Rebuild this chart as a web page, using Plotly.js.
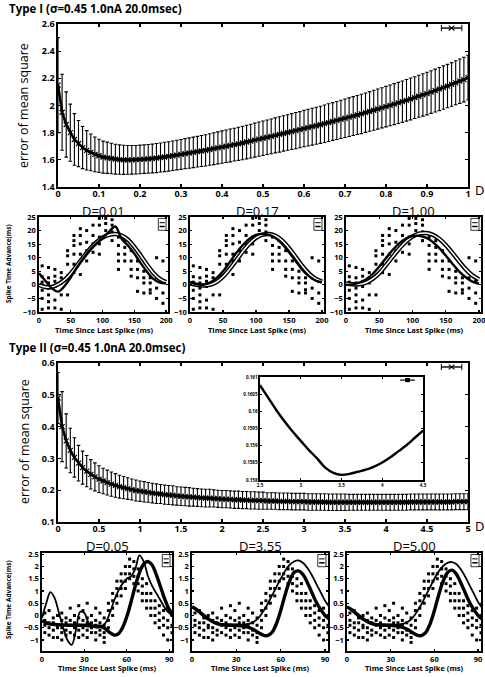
<!DOCTYPE html>
<html><head><meta charset="utf-8">
<script src="https://cdn.plot.ly/plotly-3.0.1.min.js"></script>
<style>html,body{margin:0;padding:0;background:#fff}#c{width:485px;height:677px}</style>
</head><body><div id="c"></div>
<script>
// ---------- Type I main: error of mean square vs D ----------
const typeID = [0,0.01,0.02,0.03,0.04,0.05,0.06,0.07,0.08,0.09,0.1,0.11,0.12,0.13,0.14,0.15,0.16,0.17,0.18,0.19,0.2,
0.21,0.22,0.23,0.24,0.25,0.26,0.27,0.28,0.29,0.3,0.31,0.32,0.33,0.34,0.35,0.36,0.37,0.38,0.39,0.4,
0.41,0.42,0.43,0.44,0.45,0.46,0.47,0.48,0.49,0.5,0.51,0.52,0.53,0.54,0.55,0.56,0.57,0.58,0.59,0.6,
0.61,0.62,0.63,0.64,0.65,0.66,0.67,0.68,0.69,0.7,0.71,0.72,0.73,0.74,0.75,0.76,0.77,0.78,0.79,0.8,
0.81,0.82,0.83,0.84,0.85,0.86,0.87,0.88,0.89,0.9,0.91,0.92,0.93,0.94,0.95,0.96,0.97,0.98,0.99,1.0];
const typeIMean = [2.15,1.95,1.86,1.80,1.75,1.72,1.69,1.67,1.655,1.64,1.63,1.62,1.615,1.61,1.605,1.602,1.60,1.60,1.60,1.601,1.603,
1.605,1.607,1.61,1.613,1.617,1.621,1.625,1.63,1.635,1.64,1.645,1.65,1.655,1.66,1.665,1.67,1.676,1.682,1.688,1.694,
1.70,1.706,1.712,1.718,1.724,1.731,1.738,1.745,1.752,1.759,1.766,1.773,1.78,1.787,1.794,1.801,1.808,1.815,1.822,1.83,
1.837,1.844,1.851,1.858,1.866,1.874,1.882,1.89,1.898,1.906,1.914,1.922,1.93,1.938,1.947,1.956,1.965,1.974,1.983,1.992,
2.001,2.01,2.019,2.028,2.038,2.048,2.058,2.068,2.078,2.088,2.099,2.11,2.121,2.132,2.143,2.155,2.167,2.179,2.191,2.205];
const typeIErr = [0.35,0.28,0.24,0.21,0.19,0.17,0.155,0.145,0.135,0.128,0.122,0.118,0.115,0.112,0.11,0.108,0.107,0.106,0.105,0.105,0.105,
0.105,0.106,0.106,0.107,0.107,0.108,0.108,0.109,0.109,0.11,0.111,0.112,0.112,0.113,0.114,0.115,0.116,0.117,0.118,0.119,
0.12,0.121,0.121,0.122,0.123,0.124,0.124,0.125,0.126,0.127,0.127,0.128,0.129,0.13,0.13,0.131,0.132,0.133,0.133,0.134,
0.135,0.136,0.136,0.137,0.138,0.139,0.139,0.14,0.141,0.142,0.142,0.143,0.144,0.145,0.145,0.146,0.147,0.148,0.148,0.149,
0.15,0.151,0.151,0.152,0.153,0.154,0.154,0.155,0.156,0.157,0.157,0.158,0.159,0.16,0.16,0.161,0.162,0.163,0.164,0.165];

// ---------- Type I PRC panels (time since last spike, ms) ----------
const prcIColX = [5,15,25,35,45,55,65,75,85,95,105,115,125,135,145,155,165,175,185,195];
const prcIColY = [[7,3,1,-2,-5,-9],[6.4,2.6,0.7,-1.2,-3.7,-6.2,-8.5],[5.7,3.2,1.3,-0.6,-5.6,-8.5],[4.5,2.6,0.7,-3.7,-9],
[12.6,10.7,7.6,3.2,-3.7],[18.2,16.3,14.5,11.3,7.6,4.5],[20.7,18.2,15.1,11.3,8.8,3.8],[20,15.7,12.6,8.8],[22,18.2,15.1,12],
[24.5,22,17.6,15.1,11.3],[24.5,22.6,20,18.2],[24,22,19.5,16.3],[17.6,14.5,11.3,8.8,5.7],[16.3,13.8,11.3,8.8],
[12.6,8.8,5.7,3.2],[8.8,5.7,2.6,-2.4],[5,2.6,0.7,-3],[2.6,0.7,-1.8,-3],[10,2.6,-1.2,-5],[8.8,1.3,-3,-6.8]];
const curveIX = [0,10,20,30,40,50,60,70,80,90,100,110,120,130,140,150,160,170,180,190,200];
const fitI_D001 = [4.3,1.5,-1.2,-2.5,-0.5,2.8,6.5,9.8,12.8,15.2,17.2,19.5,21.5,17.0,14.5,11.5,8.0,4.8,2.2,0.8,0.6];
const prcI_D001 = [0,-0.8,-0.8,0.2,1.8,4.2,7.2,10.3,13.2,15.6,17.4,18.4,18.7,18.2,16.6,14.0,10.8,7.4,4.4,2.2,1.0];
const fitI_D017 = [1.0,0.3,0.0,0.8,2.5,5.0,8.3,11.7,14.7,17.0,18.4,18.8,18.4,17.2,15.0,12.0,8.8,5.6,3.2,1.6,1.0];
const prcI_D017 = [0.5,0.0,-0.2,0.0,1.0,3.0,5.8,9.0,12.3,15.2,17.3,18.5,18.7,18.0,16.2,13.5,10.3,7.0,4.2,2.3,1.2];
const fitI_D100 = [0.0,0.2,0.8,2.0,4.0,6.8,9.8,12.8,15.3,17.1,18.0,18.1,17.4,15.9,13.6,10.8,7.8,5.0,2.8,1.2,0.4];
const prcI_D100 = [0.5,0.2,0.2,0.8,2.2,4.3,7.2,10.3,13.3,15.9,17.8,18.9,19.1,18.5,17.0,14.7,11.8,8.7,5.8,3.5,2.0];

// ---------- Type II main ----------
const typeIID = [0,0.05,0.1,0.15,0.2,0.25,0.3,0.35,0.4,0.45,0.5,0.55,0.6,0.65,0.7,0.75,0.8,0.85,0.9,0.95,1.0,
1.05,1.1,1.15,1.2,1.25,1.3,1.35,1.4,1.45,1.5,1.55,1.6,1.65,1.7,1.75,1.8,1.85,1.9,1.95,2.0,
2.05,2.1,2.15,2.2,2.25,2.3,2.35,2.4,2.45,2.5,2.55,2.6,2.65,2.7,2.75,2.8,2.85,2.9,2.95,3.0,
3.05,3.1,3.15,3.2,3.25,3.3,3.35,3.4,3.45,3.5,3.55,3.6,3.65,3.7,3.75,3.8,3.85,3.9,3.95,4.0,
4.05,4.1,4.15,4.2,4.25,4.3,4.35,4.4,4.45,4.5,4.55,4.6,4.65,4.7,4.75,4.8,4.85,4.9,4.95,5.0];
const typeIIMean = [0.49,0.40,0.355,0.325,0.303,0.285,0.271,0.26,0.25,0.242,0.235,0.229,0.224,0.219,0.215,0.211,0.208,0.205,0.202,0.199,0.197,
0.195,0.193,0.191,0.189,0.188,0.186,0.185,0.184,0.182,0.181,0.18,0.179,0.178,0.177,0.176,0.175,0.175,0.174,0.173,0.172,
0.172,0.171,0.17,0.17,0.169,0.169,0.168,0.168,0.167,0.167,0.166,0.166,0.166,0.165,0.165,0.165,0.164,0.164,0.164,0.164,
0.163,0.163,0.163,0.163,0.163,0.162,0.162,0.162,0.162,0.162,0.162,0.162,0.162,0.162,0.162,0.162,0.162,0.162,0.162,0.162,
0.162,0.162,0.162,0.162,0.162,0.163,0.163,0.163,0.163,0.163,0.163,0.163,0.163,0.163,0.163,0.163,0.164,0.164,0.164,0.164];
const typeIIErr = [0.08,0.11,0.085,0.07,0.062,0.056,0.052,0.049,0.046,0.044,0.042,0.04,0.039,0.038,0.037,0.036,0.035,0.034,0.033,0.033,0.032,
0.032,0.031,0.031,0.031,0.03,0.03,0.03,0.03,0.029,0.029,0.029,0.029,0.028,0.028,0.028,0.028,0.028,0.027,0.027,0.027,
0.027,0.027,0.027,0.027,0.027,0.027,0.027,0.027,0.027,0.027,0.026,0.026,0.026,0.026,0.026,0.026,0.026,0.026,0.026,0.026,
0.026,0.026,0.026,0.026,0.026,0.026,0.026,0.026,0.026,0.026,0.025,0.025,0.025,0.025,0.025,0.025,0.025,0.025,0.025,0.025,
0.025,0.025,0.025,0.025,0.025,0.025,0.025,0.025,0.025,0.025,0.025,0.025,0.025,0.025,0.025,0.025,0.025,0.025,0.025,0.025];
// inset (zoom near the minimum)
const insetD = [2.5,2.6,2.7,2.8,2.9,3.0,3.1,3.2,3.3,3.4,3.5,3.6,3.7,3.8,3.9,4.0,4.1,4.2,4.3,4.4,4.5];
const insetVal = [0.16076,0.1604,0.16004,0.15971,0.15941,0.15914,0.15887,0.15863,0.15836,0.15821,0.15815,0.15818,0.15824,0.1583,0.15839,0.15851,0.15866,0.15884,0.15902,0.15923,0.15944];

// ---------- Type II PRC panels ----------
const prcIIColX = [2,5,8,11,14,17,20,23,26,29,32,35,38,41,44,47,50,53,56,59,62,65,68,71,74,77,80,83,86,89,92];
const prcIIColY = [[0.1,-0.2,-0.4,-0.7],[0.2,-0.3,-0.5,-0.8],[-0.1,-0.3,-0.6,-0.9],[0.0,-0.4,-0.5,-0.9],[0.1,-0.2,-0.5,-0.7,-1.0],
[-0.1,-0.3,-0.6,-0.8],[0.3,-0.2,-0.4,-0.7],[0.0,-0.3,-0.5,-0.8],[0.4,-0.1,-0.4,-0.6,-0.9],[0.2,-0.2,-0.5,-0.8],
[0.5,-0.1,-0.3,-0.6,-0.9],[0.0,-0.3,-0.5,-0.7],[0.3,-0.2,-0.4,-0.7,-1.0],[0.1,-0.3,-0.6,-0.8],[-0.1,-0.4,-0.7,-0.9,-1.1],
[0.5,0.2,-0.2,-0.5],[0.9,0.6,0.3,0.0],[1.4,1.1,0.8,0.5],[1.7,1.4,1.1,0.8],[2.0,1.7,1.4,1.1],[2.3,2.0,1.7,1.5],
[2.2,1.9,1.6,1.3],[1.9,1.6,1.3,1.0],[1.5,1.2,0.9,0.6],[1.3,0.9,0.6,0.3],[0.9,0.6,0.3,0.0],[0.6,0.3,0.0,-0.3],
[0.4,0.1,-0.2,-0.5],[0.2,-0.1,-0.4,-0.8],[0.3,-0.2,-0.5,-1.0],[0.0,-0.4,-0.7]];
const curveIIX = [0,3,6,9,12,15,18,21,24,27,30,33,36,39,42,45,48,51,54,57,60,63,66,69,72,75,78,81,84,87,90,93];
const fitII_D005 = [-0.1,0.5,0.95,0.7,0.1,-0.5,-1.0,-1.2,-0.6,0.15,0.1,-0.3,-0.45,-0.5,-0.45,-0.3,0.1,0.6,1.0,1.3,1.5,1.6,1.9,2.45,2.2,1.6,1.2,0.9,0.6,0.3,0.1,0.0];
const prcII_D005 = [-0.2,-0.3,-0.35,-0.37,-0.38,-0.39,-0.4,-0.4,-0.4,-0.4,-0.4,-0.42,-0.43,-0.44,-0.45,-0.55,-0.7,-0.8,-0.75,-0.5,-0.05,0.55,1.2,1.75,2.1,2.2,2.05,1.65,1.15,0.65,0.25,0.0];
const fitII_D355 = [0.35,0.2,0.05,-0.1,-0.2,-0.27,-0.32,-0.35,-0.36,-0.37,-0.37,-0.37,-0.36,-0.33,-0.25,-0.1,0.15,0.45,0.8,1.15,1.5,1.82,2.06,2.2,2.25,2.15,1.95,1.65,1.3,0.95,0.6,0.35];
const prcII_D355 = [0.35,0.25,0.1,-0.05,-0.18,-0.28,-0.35,-0.38,-0.4,-0.4,-0.4,-0.42,-0.45,-0.5,-0.58,-0.7,-0.8,-0.82,-0.7,-0.35,0.2,0.85,1.4,1.75,1.82,1.68,1.35,0.95,0.55,0.25,0.0,-0.15];
const fitII_D500 = [0.35,0.2,0.05,-0.1,-0.2,-0.27,-0.32,-0.35,-0.36,-0.37,-0.37,-0.37,-0.36,-0.33,-0.25,-0.1,0.15,0.45,0.8,1.15,1.5,1.8,2.02,2.15,2.18,2.1,1.9,1.6,1.25,0.9,0.55,0.3];
const prcII_D500 = [0.35,0.25,0.1,-0.05,-0.18,-0.28,-0.35,-0.38,-0.4,-0.4,-0.4,-0.42,-0.45,-0.5,-0.58,-0.7,-0.8,-0.82,-0.7,-0.35,0.2,0.85,1.4,1.75,1.85,1.7,1.35,0.95,0.55,0.25,0.0,-0.15];

// ---------- helpers ----------
const W = 485, H = 677;
const px = x => x / W, py = y => 1 - y / H;
const FONT = "'Open Sans', 'Noto Sans', sans-serif";
function flatten(cx, cy) { const X = [], Y = []; cx.forEach((x, i) => cy[i].forEach(v => { X.push(x); Y.push(v); })); return [X, Y]; }
function axis(x0, x1, range, extra) {
  return Object.assign({domain: [x0, x1], range: range, showline: true, linecolor: 'black', linewidth: 1.6,
    mirror: 'ticks', ticks: 'inside', ticklen: 3, tickwidth: 1.2, tickcolor: 'black', showgrid: false, zeroline: false,
    fixedrange: true, ticklabeloverflow: 'allow', tickfont: {family: FONT, size: 9, weight: 'bold', color: 'black'}}, extra || {});
}
const traces = [];
const layout = {width: W, height: H, margin: {l: 0, r: 0, t: 0, b: 0}, showlegend: false,
  paper_bgcolor: 'white', plot_bgcolor: 'rgba(0,0,0,0)', annotations: [], shapes: [], font: {family: FONT, color: 'black'}};

// main type I
layout.xaxis = axis(px(58), px(468), [0, 1], {anchor: 'y', dtick: 0.1, tick0: 0, ticklabelstandoff: -2});
layout.yaxis = axis(py(187), py(24), [1.4, 2.6], {anchor: 'x', dtick: 0.2, tick0: 1.4});
traces.push({x: typeID, y: typeIMean, xaxis: 'x', yaxis: 'y', type: 'scatter', mode: 'lines+markers',
  line: {color: 'black', width: 2.6}, marker: {symbol: 'x-thin', size: 5, color: 'black', line: {width: 1.2, color: 'black'}},
  error_y: {type: 'data', array: typeIErr, visible: true, color: 'black', thickness: 1.1, width: 1.8}});

// main type II
layout.xaxis5 = axis(px(58), px(468), [0, 5], {anchor: 'y5', dtick: 0.5, tick0: 0, ticklabelstandoff: -2});
layout.yaxis5 = axis(py(522), py(363), [0.1, 0.6], {anchor: 'x5', dtick: 0.1, tick0: 0.1});
traces.push({x: typeIID, y: typeIIMean, xaxis: 'x5', yaxis: 'y5', type: 'scatter', mode: 'lines+markers',
  line: {color: 'black', width: 2.6}, marker: {symbol: 'x-thin', size: 5, color: 'black', line: {width: 1.2, color: 'black'}},
  error_y: {type: 'data', array: typeIIErr, visible: true, color: 'black', thickness: 1.1, width: 1.8}});
// inset
layout.xaxis6 = axis(px(260), px(423), [2.5, 4.5], {anchor: 'y6', dtick: 0.5, tick0: 2.5, ticklen: 2, linewidth: 1.6,
  tickfont: {family: FONT, size: 4.5, weight: 'bold', color: 'black'}});
layout.yaxis6 = axis(py(480), py(377), [0.158, 0.161], {anchor: 'x6', dtick: 0.0005, tick0: 0.158, ticklen: 2, tickformat: '.4~f',
  tickfont: {family: FONT, size: 4.5, weight: 'bold', color: 'black'}});
traces.push({x: insetD, y: insetVal, xaxis: 'x6', yaxis: 'y6', type: 'scatter', mode: 'lines', line: {color: 'black', width: 2.4, shape: 'spline'}});

// PRC panels
const [sIx, sIy] = flatten(prcIColX, prcIColY);
const [sIIx, sIIy] = flatten(prcIIColX, prcIIColY);
const rowI = [{n: 2, x0: 39, x1: 168, fit: fitI_D001, prc: prcI_D001, t: 'D=0.01'},
              {n: 3, x0: 190, x1: 324, fit: fitI_D017, prc: prcI_D017, t: 'D=0.17'},
              {n: 4, x0: 346, x1: 481, fit: fitI_D100, prc: prcI_D100, t: 'D=1.00'}];
const rowII = [{n: 7, x0: 42, x1: 172, fit: fitII_D005, prc: prcII_D005, t: 'D=0.05'},
               {n: 8, x0: 192, x1: 328, fit: fitII_D355, prc: prcII_D355, t: 'D=3.55'},
               {n: 9, x0: 347, x1: 481, fit: fitII_D500, prc: prcII_D500, t: 'D=5.00'}];
const smallFont = {family: FONT, size: 7.5, weight: 'bold', color: 'black'};
rowI.forEach(p => {
  const xa = 'x' + p.n, ya = 'y' + p.n;
  layout['xaxis' + p.n] = axis(px(p.x0), px(p.x1), [0, 203], {anchor: ya, dtick: 50, tick0: 0, tickfont: smallFont, ticklen: 2});
  layout['yaxis' + p.n] = axis(py(312), py(217), [-10, 25], {anchor: xa, dtick: 5, tick0: -10, tickfont: smallFont, ticklen: 2});
  traces.push({x: sIx, y: sIy, xaxis: xa, yaxis: ya, type: 'scatter', mode: 'markers', marker: {symbol: 'square', size: 3, color: 'black'}});
  traces.push({x: curveIX, y: p.prc, xaxis: xa, yaxis: ya, type: 'scatter', mode: 'lines', line: {color: 'black', width: 4.5, shape: 'spline'}});
  traces.push({x: curveIX, y: p.prc, xaxis: xa, yaxis: ya, type: 'scatter', mode: 'lines', line: {color: 'white', width: 1.5, shape: 'spline'}});
  traces.push({x: curveIX, y: p.fit, xaxis: xa, yaxis: ya, type: 'scatter', mode: 'lines', line: {color: 'black', width: 2.4, shape: 'spline'}});
  layout.annotations.push({xref: 'paper', yref: 'paper', x: px((p.x0 + p.x1) / 2), y: py(210.5), text: p.t, showarrow: false,
    font: {family: FONT, size: 13, color: 'black'}, xanchor: 'center', yanchor: 'middle'});
  layout.annotations.push({xref: 'paper', yref: 'paper', x: px((p.x0 + p.x1) / 2), y: py(330), text: 'Time Since Last Spike (ms)', showarrow: false,
    font: {family: FONT, size: 7.5, weight: 'bold', color: 'black'}, xanchor: 'center', yanchor: 'middle'});
});
rowII.forEach(p => {
  const xa = 'x' + p.n, ya = 'y' + p.n;
  layout['xaxis' + p.n] = axis(px(p.x0), px(p.x1), [0, 92], {anchor: ya, dtick: 30, tick0: 0, tickfont: smallFont, ticklen: 2});
  layout['yaxis' + p.n] = axis(py(651), py(553), [-1.45, 2.55], {anchor: xa, dtick: 0.5, tick0: -1, tickfont: smallFont, ticklen: 2,
    tickvals: [-1, -0.5, 0, 0.5, 1, 1.5, 2, 2.5]});
  traces.push({x: sIIx, y: sIIy, xaxis: xa, yaxis: ya, type: 'scatter', mode: 'markers', marker: {symbol: 'square', size: 3, color: 'black'}});
  traces.push({x: curveIIX, y: p.fit, xaxis: xa, yaxis: ya, type: 'scatter', mode: 'lines', line: {color: 'black', width: 1.8, shape: 'spline'}});
  traces.push({x: curveIIX, y: p.prc, xaxis: xa, yaxis: ya, type: 'scatter', mode: 'lines', line: {color: 'black', width: 3.4, shape: 'spline'}});
  layout.annotations.push({xref: 'paper', yref: 'paper', x: px((p.x0 + p.x1) / 2), y: py(546), text: p.t, showarrow: false,
    font: {family: FONT, size: 13, color: 'black'}, xanchor: 'center', yanchor: 'middle'});
  layout.annotations.push({xref: 'paper', yref: 'paper', x: px((p.x0 + p.x1) / 2), y: py(668), text: 'Time Since Last Spike (ms)', showarrow: false,
    font: {family: FONT, size: 7.5, weight: 'bold', color: 'black'}, xanchor: 'center', yanchor: 'middle'});
});
// small legend boxes in PRC panels
[2, 3, 4, 7, 8, 9].forEach(n => {
  const xr = 'x' + n + ' domain', yr = 'y' + n + ' domain';
  layout.shapes.push({type: 'rect', xref: xr, yref: yr, x0: 0.925, x1: 0.985, y0: 0.86, y1: 0.985, line: {color: 'black', width: 0.8}});
  layout.shapes.push({type: 'line', xref: xr, yref: yr, x0: 0.935, x1: 0.975, y0: 0.94, y1: 0.94, line: {color: 'black', width: 1}});
  layout.shapes.push({type: 'line', xref: xr, yref: yr, x0: 0.935, x1: 0.975, y0: 0.9, y1: 0.9, line: {color: 'black', width: 1.5}});
});
// legend markers of main panels
[['x', 'y'], ['x5', 'y5']].forEach(([a, b]) => {
  const xr = a + ' domain', yr = b + ' domain';
  layout.shapes.push({type: 'line', xref: xr, yref: yr, x0: 0.935, x1: 0.985, y0: 0.975, y1: 0.975, line: {color: 'black', width: 1.4}});
  layout.shapes.push({type: 'line', xref: xr, yref: yr, x0: 0.935, x1: 0.935, y0: 0.955, y1: 0.995, line: {color: 'black', width: 1}});
  layout.shapes.push({type: 'line', xref: xr, yref: yr, x0: 0.985, x1: 0.985, y0: 0.955, y1: 0.995, line: {color: 'black', width: 1}});
  layout.shapes.push({type: 'line', xref: xr, yref: yr, x0: 0.953, x1: 0.967, y0: 0.96, y1: 0.99, line: {color: 'black', width: 1.2}});
  layout.shapes.push({type: 'line', xref: xr, yref: yr, x0: 0.953, x1: 0.967, y0: 0.99, y1: 0.96, line: {color: 'black', width: 1.2}});
});
// inset legend
layout.shapes.push({type: 'line', xref: 'x6 domain', yref: 'y6 domain', x0: 0.86, x1: 0.95, y0: 0.97, y1: 0.97, line: {color: 'black', width: 1.2}});
layout.shapes.push({type: 'rect', xref: 'x6 domain', yref: 'y6 domain', x0: 0.89, x1: 0.92, y0: 0.95, y1: 0.99, fillcolor: 'black', line: {width: 0}});

// titles and labels
const A = (x, y, text, font, extra) => layout.annotations.push(Object.assign({xref: 'paper', yref: 'paper', x: px(x), y: py(y), text: text,
  showarrow: false, font: font, xanchor: 'left', yanchor: 'middle'}, extra || {}));
A(7, 8, 'Type I (σ=0.45 1.0nA 20.0msec)', {family: FONT, size: 11.5, weight: 'bold', color: 'black'});
A(7, 347, 'Type II (σ=0.45 1.0nA 20.0msec)', {family: FONT, size: 11.5, weight: 'bold', color: 'black'});
A(24, 106, 'error of mean square', {family: FONT, size: 12.5, color: 'black'}, {textangle: -90, xanchor: 'center'});
A(24, 442, 'error of mean square', {family: FONT, size: 12.5, color: 'black'}, {textangle: -90, xanchor: 'center'});
A(473, 190, 'D', {family: FONT, size: 13, color: 'black'});
A(473, 526, 'D', {family: FONT, size: 13, color: 'black'});
A(8, 264, 'Spike Time Advance(ms)', {family: FONT, size: 6.5, weight: 'bold', color: 'black'}, {textangle: -90, xanchor: 'center'});
A(8, 600, 'Spike Time Advance(ms)', {family: FONT, size: 6.5, weight: 'bold', color: 'black'}, {textangle: -90, xanchor: 'center'});

Plotly.newPlot('c', traces, layout, {staticPlot: true, displayModeBar: false});
</script></body></html>
